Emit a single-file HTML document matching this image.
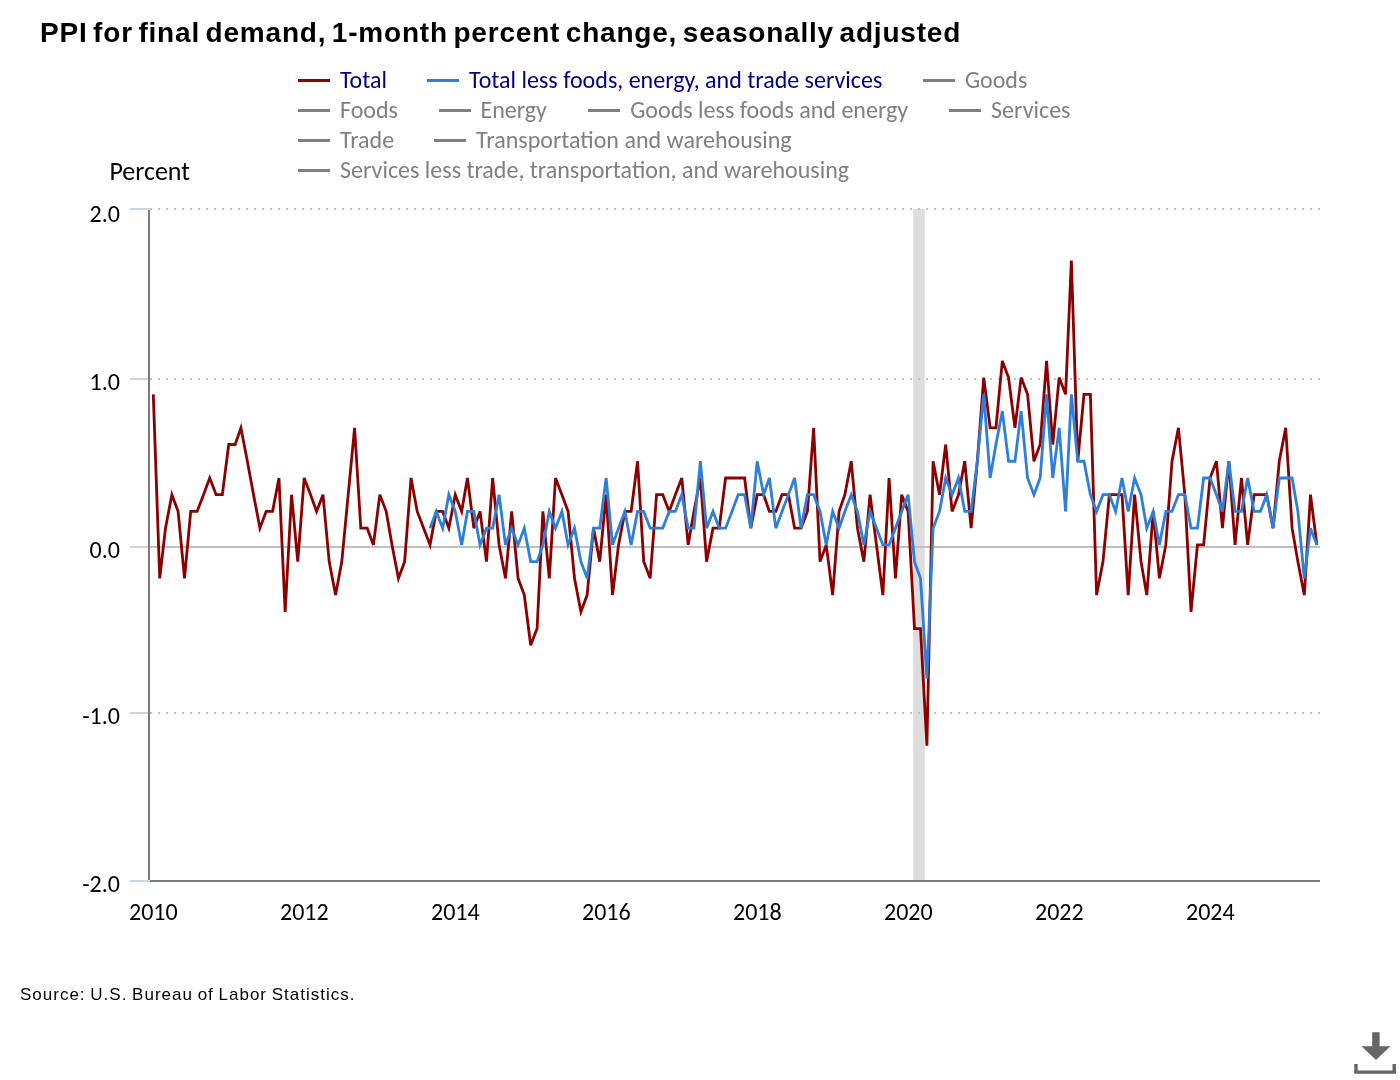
<!DOCTYPE html>
<html><head><meta charset="utf-8"><title>PPI for final demand</title>
<style>
html,body{margin:0;padding:0;background:#fff;}
body{width:1400px;height:1080px;position:relative;overflow:hidden;}
.chart{position:absolute;left:0;top:0;}
h1{position:absolute;left:40px;top:17.5px;margin:0;font:bold 28px "Liberation Sans",Arial,sans-serif;letter-spacing:0.8px;word-spacing:-3px;color:#000;white-space:nowrap;line-height:30px;}
.li{position:absolute;height:30px;line-height:30px;white-space:nowrap;font:24px Carlito,Lato,"Liberation Sans",sans-serif;color:#808080;padding-left:42px;}
.li.on{color:#000080;}
.li i{position:absolute;left:0;top:13.5px;width:32px;height:3px;}
.pc{position:absolute;left:109.4px;top:156px;font:26px Carlito,Lato,"Liberation Sans",sans-serif;color:#000;line-height:30px;}
.yl{position:absolute;right:1280px;width:60px;text-align:right;font:24px Carlito,Lato,"Liberation Sans",sans-serif;color:#000;line-height:30px;}
.xl{position:absolute;top:897px;width:80px;text-align:center;font:24px Carlito,Lato,"Liberation Sans",sans-serif;color:#000;line-height:30px;}
.src{position:absolute;left:20px;top:985px;font:17px "Liberation Sans",Arial,sans-serif;letter-spacing:1px;word-spacing:-1px;color:#000;white-space:nowrap;line-height:20px;}
.dl{position:absolute;left:1354px;top:1031px;}
</style></head><body>
<svg class="chart" width="1400" height="1080" viewBox="0 0 1400 1080">
<rect x="913.2" y="209" width="11.5" height="671" fill="#dddddd"/>
<line x1="150" y1="209" x2="1320" y2="209" stroke="#bfbfbf" stroke-width="2" stroke-dasharray="2 6"/>
<line x1="150" y1="379" x2="1320" y2="379" stroke="#bfbfbf" stroke-width="2" stroke-dasharray="2 6"/>
<line x1="150" y1="713" x2="1320" y2="713" stroke="#bfbfbf" stroke-width="2" stroke-dasharray="2 6"/>
<line x1="150" y1="547" x2="1320" y2="547" stroke="#c0c0c0" stroke-width="2"/>
<line x1="130" y1="209" x2="150" y2="209" stroke="#cad3ea" stroke-width="2"/>
<line x1="130" y1="379" x2="150" y2="379" stroke="#cad3ea" stroke-width="2"/>
<line x1="130" y1="547" x2="150" y2="547" stroke="#cad3ea" stroke-width="2"/>
<line x1="130" y1="713" x2="150" y2="713" stroke="#cad3ea" stroke-width="2"/>
<line x1="130" y1="881" x2="150" y2="881" stroke="#cad3ea" stroke-width="2"/>
<line x1="149" y1="210" x2="149" y2="880" stroke="#7c7c7c" stroke-width="2"/>
<line x1="150" y1="881" x2="1320" y2="881" stroke="#7c7c7c" stroke-width="2"/>
<path d="M153.30 394.33 L159.71 578.36 L165.49 528.17 L171.90 494.71 L178.10 511.44 L184.51 578.36 L190.71 511.44 L197.12 511.44 L203.52 494.71 L209.72 477.98 L216.13 494.71 L222.33 494.71 L228.74 444.52 L235.14 444.52 L240.93 427.79 L247.34 461.25 L253.54 494.71 L259.95 528.17 L266.15 511.44 L272.55 511.44 L278.96 477.98 L285.16 611.82 L291.57 494.71 L297.77 561.63 L304.18 477.98 L310.58 494.71 L316.58 511.44 L322.98 494.71 L329.18 561.63 L335.59 595.09 L341.79 561.63 L348.20 494.71 L354.60 427.79 L360.81 528.17 L367.21 528.17 L373.41 544.90 L379.82 494.71 L386.23 511.44 L392.01 544.90 L398.42 578.36 L404.62 561.63 L411.03 477.98 L417.23 511.44 L423.64 528.17 L430.04 544.90 L436.24 511.44 L442.65 511.44 L448.85 528.17 L455.26 494.71 L461.66 511.44 L467.45 477.98 L473.86 528.17 L480.06 511.44 L486.47 561.63 L492.67 477.98 L499.07 544.90 L505.48 578.36 L511.68 511.44 L518.09 578.36 L524.29 595.09 L530.69 645.28 L537.10 628.55 L542.89 511.44 L549.30 578.36 L555.50 477.98 L561.90 494.71 L568.10 511.44 L574.51 578.36 L580.92 611.82 L587.12 595.09 L593.53 528.17 L599.73 561.63 L606.13 494.71 L612.54 595.09 L618.53 544.90 L624.94 511.44 L631.14 511.44 L637.55 461.25 L643.75 561.63 L650.16 578.36 L656.56 494.71 L662.76 494.71 L669.17 511.44 L675.37 494.71 L681.78 477.98 L688.18 544.90 L693.97 511.44 L700.38 477.98 L706.58 561.63 L712.99 528.17 L719.19 528.17 L725.59 477.98 L732.00 477.98 L738.20 477.98 L744.61 477.98 L750.81 528.17 L757.21 494.71 L763.62 494.71 L769.41 511.44 L775.82 511.44 L782.02 494.71 L788.42 494.71 L794.62 528.17 L801.03 528.17 L807.44 511.44 L813.64 427.79 L820.04 561.63 L826.25 544.90 L832.65 595.09 L839.06 511.44 L844.85 494.71 L851.25 461.25 L857.45 528.17 L863.86 561.63 L870.06 494.71 L876.47 544.90 L882.88 595.09 L889.08 477.98 L895.48 578.36 L901.68 494.71 L908.09 511.44 L914.50 628.55 L920.49 628.55 L926.90 745.66 L933.10 461.25 L939.51 494.71 L945.71 444.52 L952.11 511.44 L958.52 494.71 L964.72 461.25 L971.13 528.17 L977.33 461.25 L983.73 377.60 L990.14 427.79 L995.93 427.79 L1002.34 360.87 L1008.54 377.60 L1014.94 427.79 L1021.14 377.60 L1027.55 394.33 L1033.96 461.25 L1040.16 444.52 L1046.56 360.87 L1052.76 444.52 L1059.17 377.60 L1065.58 394.33 L1071.37 260.49 L1077.77 461.25 L1083.97 394.33 L1090.38 394.33 L1096.58 595.09 L1102.99 561.63 L1109.39 494.71 L1115.60 494.71 L1122.00 494.71 L1128.20 595.09 L1134.61 494.71 L1141.02 561.63 L1146.80 595.09 L1153.21 511.44 L1159.41 578.36 L1165.82 544.90 L1172.02 461.25 L1178.43 427.79 L1184.83 494.71 L1191.03 611.82 L1197.44 544.90 L1203.64 544.90 L1210.05 477.98 L1216.45 461.25 L1222.45 528.17 L1228.85 461.25 L1235.06 544.90 L1241.46 477.98 L1247.66 544.90 L1254.07 494.71 L1260.48 494.71 L1266.68 494.71 L1273.08 528.17 L1279.28 461.25 L1285.69 427.79 L1292.10 528.17 L1297.89 561.63 L1304.29 595.09 L1310.49 494.71 L1316.90 544.90" fill="none" stroke="#8b0000" stroke-width="2.8"/>
<path d="M430.04 528.17 L436.24 511.44 L442.65 528.17 L448.85 494.71 L455.26 511.44 L461.66 544.90 L467.45 511.44 L473.86 511.44 L480.06 544.90 L486.47 528.17 L492.67 528.17 L499.07 494.71 L505.48 544.90 L511.68 528.17 L518.09 544.90 L524.29 528.17 L530.69 561.63 L537.10 561.63 L542.89 544.90 L549.30 511.44 L555.50 528.17 L561.90 511.44 L568.10 544.90 L574.51 528.17 L580.92 561.63 L587.12 578.36 L593.53 528.17 L599.73 528.17 L606.13 477.98 L612.54 544.90 L618.53 528.17 L624.94 511.44 L631.14 544.90 L637.55 511.44 L643.75 511.44 L650.16 528.17 L656.56 528.17 L662.76 528.17 L669.17 511.44 L675.37 511.44 L681.78 494.71 L688.18 528.17 L693.97 528.17 L700.38 461.25 L706.58 528.17 L712.99 511.44 L719.19 528.17 L725.59 528.17 L732.00 511.44 L738.20 494.71 L744.61 494.71 L750.81 528.17 L757.21 461.25 L763.62 494.71 L769.41 477.98 L775.82 528.17 L782.02 511.44 L788.42 494.71 L794.62 477.98 L801.03 528.17 L807.44 494.71 L813.64 494.71 L820.04 511.44 L826.25 544.90 L832.65 511.44 L839.06 528.17 L844.85 511.44 L851.25 494.71 L857.45 511.44 L863.86 544.90 L870.06 511.44 L876.47 528.17 L882.88 544.90 L889.08 544.90 L895.48 528.17 L901.68 511.44 L908.09 494.71 L914.50 561.63 L920.49 578.36 L926.90 678.74 L933.10 528.17 L939.51 511.44 L945.71 477.98 L952.11 494.71 L958.52 477.98 L964.72 511.44 L971.13 511.44 L977.33 461.25 L983.73 394.33 L990.14 477.98 L995.93 444.52 L1002.34 411.06 L1008.54 461.25 L1014.94 461.25 L1021.14 411.06 L1027.55 477.98 L1033.96 494.71 L1040.16 477.98 L1046.56 394.33 L1052.76 477.98 L1059.17 427.79 L1065.58 511.44 L1071.37 394.33 L1077.77 461.25 L1083.97 461.25 L1090.38 494.71 L1096.58 511.44 L1102.99 494.71 L1109.39 494.71 L1115.60 511.44 L1122.00 477.98 L1128.20 511.44 L1134.61 477.98 L1141.02 494.71 L1146.80 528.17 L1153.21 511.44 L1159.41 544.90 L1165.82 511.44 L1172.02 511.44 L1178.43 494.71 L1184.83 494.71 L1191.03 528.17 L1197.44 528.17 L1203.64 477.98 L1210.05 477.98 L1216.45 494.71 L1222.45 511.44 L1228.85 461.25 L1235.06 511.44 L1241.46 511.44 L1247.66 477.98 L1254.07 511.44 L1260.48 511.44 L1266.68 494.71 L1273.08 528.17 L1279.28 477.98 L1285.69 477.98 L1292.10 477.98 L1297.89 511.44 L1304.29 578.36 L1310.49 528.17 L1316.90 544.90" fill="none" stroke="#2f7ed8" stroke-width="2.8"/>
</svg>
<h1>PPI for final demand, 1-month percent change, seasonally adjusted</h1>
<div class="li on" style="left:298px;top:65px"><i style="background:#8b0000"></i>Total</div>
<div class="li on" style="left:427.1px;top:65px"><i style="background:#2f7ed8"></i>Total less foods, energy, and trade services</div>
<div class="li" style="left:922.9px;top:65px"><i style="background:#808080"></i>Goods</div>
<div class="li" style="left:298px;top:95px"><i style="background:#808080"></i>Foods</div>
<div class="li" style="left:438.5px;top:95px"><i style="background:#808080"></i>Energy</div>
<div class="li" style="left:588.2px;top:95px"><i style="background:#808080"></i>Goods less foods and energy</div>
<div class="li" style="left:949.1px;top:95px"><i style="background:#808080"></i>Services</div>
<div class="li" style="left:298px;top:125px"><i style="background:#808080"></i>Trade</div>
<div class="li" style="left:434.1px;top:125px"><i style="background:#808080"></i>Transportation and warehousing</div>
<div class="li" style="left:298px;top:155px"><i style="background:#808080"></i>Services less trade, transportation, and warehousing</div>
<div class="pc">Percent</div>
<div class="yl" style="top:199.2px">2.0</div>
<div class="yl" style="top:366.9px">1.0</div>
<div class="yl" style="top:535px">0.0</div>
<div class="yl" style="top:701.1px">-1.0</div>
<div class="yl" style="top:869.2px">-2.0</div>
<div class="xl" style="left:113.3px">2010</div>
<div class="xl" style="left:264.3px">2012</div>
<div class="xl" style="left:415.3px">2014</div>
<div class="xl" style="left:566.3px">2016</div>
<div class="xl" style="left:717.3px">2018</div>
<div class="xl" style="left:868.3px">2020</div>
<div class="xl" style="left:1019.3px">2022</div>
<div class="xl" style="left:1170.3px">2024</div>
<div class="src">Source: U.S. Bureau of Labor Statistics.</div>
<svg class="dl" width="44" height="44" viewBox="0 0 44 44"><path d="M18.2 1.2H25.6V15.2H36.4L22 29L7.6 15.2H18.2Z" fill="#666"/><path d="M0.2 33H3.7V39.5H38.5V33H42V42.8H0.2Z" fill="#666"/></svg>
</body></html>
